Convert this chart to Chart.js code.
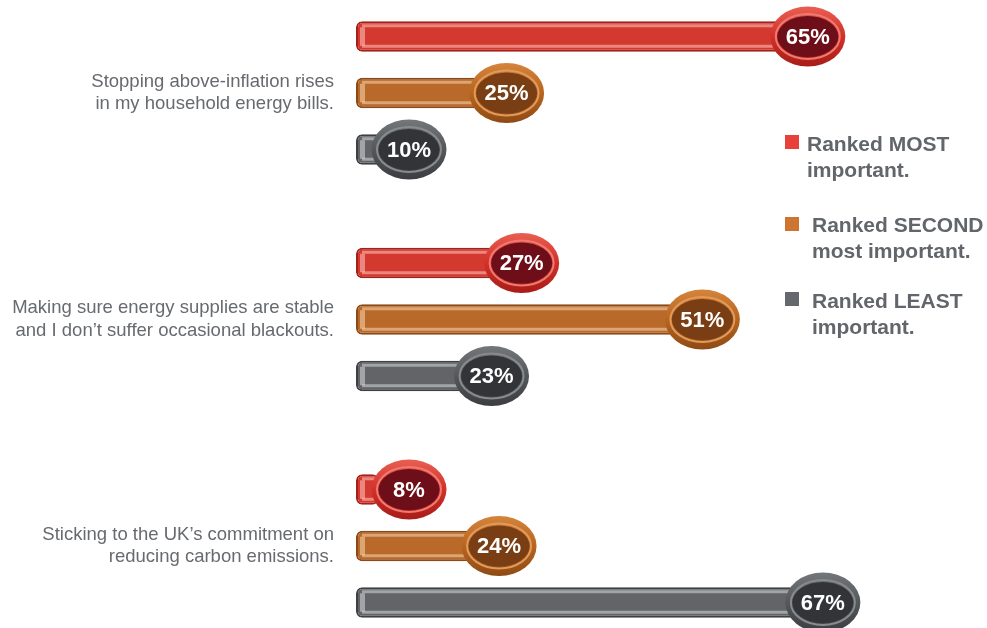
<!DOCTYPE html>
<html>
<head>
<meta charset="utf-8">
<script src="https://cdn.jsdelivr.net/npm/chart.js@4"></script>
<style>
  html, body { margin: 0; padding: 0; background: #fff; }
  #wrap { width: 987px; height: 628px; position: relative; }
</style>
</head>
<body>
<div id="wrap"><canvas id="priority-chart"></canvas></div>
<script>
const categories = [
  ['Stopping above-inflation rises', 'in my household energy bills.'],
  ['Making sure energy supplies are stable', 'and I don’t suffer occasional blackouts.'],
  ['Sticking to the UK’s commitment on', 'reducing carbon emissions.']
];
const seriesNames = ['Ranked MOST important.', 'Ranked SECOND most important.', 'Ranked LEAST important.'];
const mostImportant = [65, 27, 8];
const secondImportant = [25, 51, 24];
const leastImportant = [10, 23, 67];

const legendLines = [
  ['Ranked MOST', 'important.'],
  ['Ranked SECOND', 'most important.'],
  ['Ranked LEAST', 'important.']
];

// look of each series: bar, shine, pill ring, pill centre, legend swatch
const looks = [
  { bar: '#d4392f', edge: '#a4201a', shine: 'rgba(255,200,195,0.55)', ringLight: '#ea5e52', ring: '#d1312a', ringDark: '#a81c17', rim: '#ee7a70', inner: '#6e0e18', swatch: '#e8413a' },
  { bar: '#b9692a', edge: '#8c4916', shine: 'rgba(255,225,190,0.5)', ringLight: '#d5843c', ring: '#b8651f', ringDark: '#8e4a14', rim: '#e09a5a', inner: '#7a3e14', swatch: '#cd7430' },
  { bar: '#626467', edge: '#3e4043', shine: 'rgba(225,227,230,0.5)', ringLight: '#74777a', ring: '#55585b', ringDark: '#3b3d40', rim: '#888b8e', inner: '#323437', swatch: '#65686c' }
];

const pillPlugin = {
  id: 'pills',
  afterDatasetsDraw(chart) {
    const ctx = chart.ctx;
    chart.data.datasets.forEach((ds, di) => {
      const meta = chart.getDatasetMeta(di);
      const lk = looks[di];
      meta.data.forEach((bar, i) => {
        const p = bar.getProps(['x', 'y', 'base', 'height'], true);
        const top = p.y - p.height / 2, bot = p.y + p.height / 2;
        ctx.save();
        // shine bands on the bar
        ctx.fillStyle = lk.shine;
        ctx.fillRect(p.base + 6, top + 3, p.x - p.base - 6, 3);
        ctx.fillRect(p.base + 6, bot - 7, p.x - p.base - 6, 3);
        ctx.fillRect(p.base + 4, top + 6, 5, p.height - 12);
        // the pill at the bar end
        const cx = Math.max(p.x, p.base + 53);
        const g = ctx.createLinearGradient(0, p.y - 30, 0, p.y + 30);
        g.addColorStop(0, lk.ringLight);
        g.addColorStop(0.5, lk.ring);
        g.addColorStop(1, lk.ringDark);
        ctx.fillStyle = g;
        ctx.beginPath();
        ctx.ellipse(cx, p.y, 37.5, 30, 0, 0, Math.PI * 2);
        ctx.fill();
        ctx.strokeStyle = lk.rim;
        ctx.lineWidth = 2;
        ctx.beginPath();
        ctx.ellipse(cx, p.y, 32, 22.5, 0, 0, Math.PI * 2);
        ctx.stroke();
        ctx.fillStyle = lk.inner;
        ctx.beginPath();
        ctx.ellipse(cx, p.y, 30.5, 20.5, 0, 0, Math.PI * 2);
        ctx.fill();
        ctx.fillStyle = '#ffffff';
        ctx.font = 'bold 22px "Liberation Sans", Arial, sans-serif';
        ctx.textAlign = 'center';
        ctx.textBaseline = 'middle';
        ctx.fillText(ds.data[i] + '%', cx, p.y + 1);
        ctx.restore();
      });
    });
  },
  afterDraw(chart) {
    const ctx = chart.ctx;
    const spots = [
      { sq: 135, tx: 807, base: 151 },
      { sq: 217, tx: 812, base: 232 },
      { sq: 292, tx: 812, base: 308 }
    ];
    ctx.save();
    ctx.font = 'bold 21px "Liberation Sans", Arial, sans-serif';
    ctx.textAlign = 'left';
    ctx.textBaseline = 'alphabetic';
    legendLines.forEach((lines, k) => {
      const s = spots[k];
      ctx.fillStyle = looks[k].swatch;
      ctx.fillRect(785, s.sq, 14, 14);
      ctx.fillStyle = '#62666a';
      lines.forEach((t, j) => ctx.fillText(t, s.tx, s.base + j * 25.5));
    });
    ctx.restore();
  }
};

new Chart(document.getElementById('priority-chart'), {
  type: 'bar',
  data: {
    labels: categories,
    datasets: [mostImportant, secondImportant, leastImportant].map((vals, k) => ({
      label: seriesNames[k],
      data: vals,
      base: 5,
      backgroundColor: looks[k].bar,
      borderColor: looks[k].edge,
      borderWidth: 2,
      borderRadius: 6,
      borderSkipped: false,
      clip: false,
      categoryPercentage: 0.748,
      barPercentage: 0.54
    }))
  },
  options: {
    indexAxis: 'y',
    responsive: true,
    maintainAspectRatio: false,
    animation: false,
    layout: { padding: { top: 93, bottom: 82, left: 0, right: 6 } },
    plugins: {
      legend: { display: false },
      tooltip: { enabled: false }
    },
    scales: {
      x: {
        display: false,
        min: 5,
        max: 88
      },
      y: {
        offset: false,
        grid: { display: false, drawTicks: false },
        border: { display: false },
        afterFit(scale) { scale.width = 356; },
        ticks: {
          padding: 22,
          color: '#676a6e',
          font: { family: '"Liberation Sans", Arial, sans-serif', size: 18.5, lineHeight: 1.2 }
        }
      }
    }
  },
  plugins: [pillPlugin]
});
</script>
</body>
</html>
